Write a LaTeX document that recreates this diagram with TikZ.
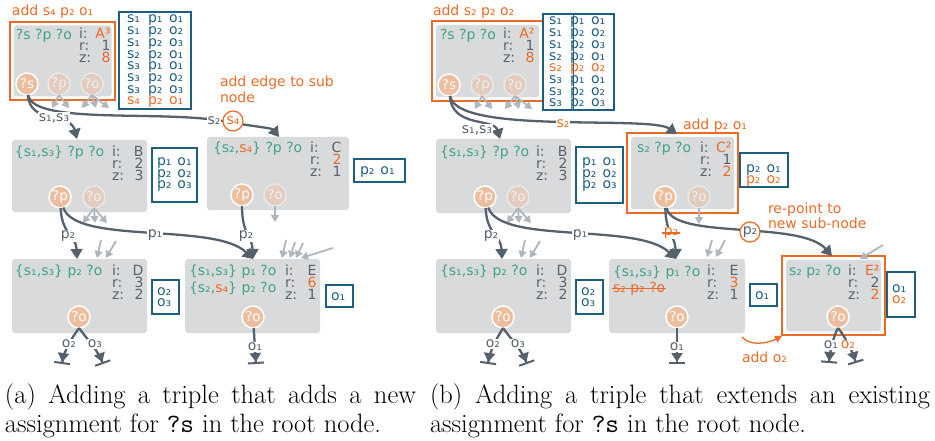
\documentclass[tikz,border=0pt]{standalone}
\usepackage{fontspec}
\usetikzlibrary{arrows.meta}
\newfontfamily\dvs{DejaVu Sans}
\definecolor{cPat}{HTML}{3FA386}
\definecolor{cLab}{HTML}{58626D}
\definecolor{cOrg}{HTML}{EA6B25}
\definecolor{cTea}{HTML}{1E5F80}
\definecolor{cEdg}{HTML}{56616E}
\definecolor{cLgr}{HTML}{AEB6BE}
\definecolor{cBox}{HTML}{D9DADC}
\definecolor{cPch}{HTML}{EDBE9E}
\newcommand\vlines[2]{\vtop{\baselineskip=#1\lineskiplimit=-100pt\lineskip=0pt #2}}
\newcommand\trow[3]{\hbox{\makebox[21pt][l]{#1}\makebox[21pt][l]{#2}#3}}
\newcommand\otrow[3]{\hbox{\color{cOrg}\makebox[21pt][l]{#1}\makebox[21pt][l]{#2}#3}}
\newcommand\prow[2]{\hbox{\makebox[20.5pt][l]{#1}#2}}
\newcommand\oprow[2]{\hbox{\color{cOrg}\makebox[20.5pt][l]{#1}#2}}
\newcommand\irz[6]{%
  \node[stlab,anchor=base west] (#1-k) at (#2,#3) {\vlines{12pt}{\hbox{i:}\hbox{r:}\hbox{z:}}};
  \node[stlab,anchor=base east] (#1-v) at (#2+32,#3) {\vlines{12pt}{\hbox to 0pt{\hss #4}\hbox to 0pt{\hss #5}\hbox to 0pt{\hss #6}}};
}
\tikzset{
  every node/.style={inner sep=0pt,outer sep=0pt},
  gbox/.style={fill=cBox,rounded corners=3pt,anchor=north west},
  obox/.style={draw=cOrg,line width=1.5pt,anchor=north west},
  tbox/.style={draw=cTea,line width=1.3pt,fill=white,anchor=north west},
  stpat/.style={text=cPat,font=\dvs\fontsize{14}{17}\selectfont,anchor=base west},
  stlab/.style={text=cLab,font=\dvs\fontsize{14}{12}\selectfont},
  sttab/.style={text=cTea,font=\dvs\fontsize{14}{11.5}\selectfont,anchor=base west},
  stnote/.style={text=cOrg,font=\dvs\fontsize{14}{16}\selectfont,anchor=base west},
  elab/.style={text=cLab,font=\dvs\fontsize{14}{14}\selectfont,fill=white,inner sep=1pt},
  ecirc/.style={circle,draw=cOrg,line width=1.2pt,fill=white,minimum size=20pt,font=\dvs\fontsize{14}{14}\selectfont},
  vfull/.style={circle,fill=cPch,draw=white,line width=1.5pt,minimum size=22pt,text=white,font=\dvs\fontsize{13.5}{13.5}\selectfont},
  vfade/.style={vfull,fill=cPch!50!cBox,draw=white!40!cBox,text=white!60!cBox},
  edge/.style={draw=cEdg,line width=2.3pt,-{Triangle[length=10pt,width=12pt]}},
  gedge/.style={draw=cLgr,line width=1.8pt,-{Triangle[length=7pt,width=8pt]}},
  term/.style={draw=cEdg,line width=2.3pt,-{Triangle[length=9pt,width=11pt]Bar[width=16pt,line width=2pt]}},
  oarrow/.style={draw=cOrg,line width=1.3pt,-{Triangle[length=7pt,width=7pt]}},
  strike/.style={draw=cOrg,line width=1.2pt},
  captext/.style={font=\fontsize{26.5}{31}\selectfont,anchor=base west},
}
\begin{document}
\begin{tikzpicture}[x=1pt,y=-1pt]
\useasboundingbox (0,0) rectangle (935,441);

%% ================= panel (a) =================
% A
\node[obox,minimum width=105pt,minimum height=78pt] (Ao) at (10,22) {};
\node[gbox,minimum width=98pt,minimum height=71pt] (A) at (13.5,25.5) {};
\node[stnote] (A-note) at (12,16) {add s₄ p₂ o₁};
\node[stpat] (A-t) at (16,40) {?s ?p ?o};
\irz{A}{79}{39}{\textcolor{cOrg}{A³}}{1}{\textcolor{cOrg}{8}}
\node[vfull] (aS) at (27,84) {?s};
\node[vfade] (aP) at (59,84) {?p};
\node[vfade] (aO) at (92,84) {?o};
\node[tbox,minimum width=72pt,minimum height=97pt] (TA) at (119,12) {};
\node[sttab] (TA-t) at (127,23) {\vlines{11.7pt}{\trow{s₁}{p₁}{o₁}\trow{s₁}{p₂}{o₂}\trow{s₁}{p₂}{o₃}\trow{s₂}{p₂}{o₁}\trow{s₃}{p₁}{o₁}\trow{s₃}{p₂}{o₂}\trow{s₃}{p₂}{o₃}\otrow{s₄}{p₂}{o₁}}};

% B
\node[gbox,minimum width=135pt,minimum height=72pt] (B) at (12,140) {};
\node[stpat] (B-t) at (15,157) {\{s₁,s₃\} ?p ?o};
\irz{B}{112}{157}{B}{2}{3}
\node[vfull] (bP) at (60,197) {?p};
\node[vfade] (bO) at (94,197) {?o};
\node[tbox,minimum width=45pt,minimum height=54pt] (TB) at (152,148) {};
\node[sttab] (TB-t) at (157,166) {\vlines{11.5pt}{\prow{p₁}{o₁}\prow{p₂}{o₂}\prow{p₂}{o₃}}};

% C
\node[gbox,minimum width=142pt,minimum height=73pt] (C) at (207,137) {};
\node[stpat] (C-t) at (213,153) {\{s₂,\textcolor{cOrg}{s₄}\} ?p ?o};
\irz{C}{310}{153}{C}{\textcolor{cOrg}{2}}{1}
\node[vfull] (cP) at (242,195) {?p};
\node[vfade] (cO) at (275,195) {?o};
\node[tbox,minimum width=51pt,minimum height=23pt] (TC) at (354,159) {};
\node[sttab] (TC-t) at (360,175) {\prow{p₂}{o₁}};
\node[stnote] (C-note) at (220,87) {\vlines{16pt}{\hbox{add edge to sub}\hbox{node}}};

% D
\node[gbox,minimum width=135pt,minimum height=74pt] (D) at (12,259) {};
\node[stpat] (D-t) at (15,275) {\{s₁,s₃\} p₂ ?o};
\irz{D}{112}{275}{D}{3}{2}
\node[vfull] (dO) at (79,317) {?o};
\node[tbox,minimum width=27pt,minimum height=34pt] (TD) at (152,280) {};
\node[sttab] (TD-t) at (157,295) {\vlines{11.5pt}{\hbox{o₂}\hbox{o₃}}};

% E
\node[gbox,minimum width=135pt,minimum height=74pt] (E) at (185,259) {};
\node[stpat] (E-t1) at (189,275) {\{s₁,s₃\} p₁ ?o};
\node[stpat] (E-t2) at (189,292) {\{s₂,\textcolor{cOrg}{s₄}\} p₂ ?o};
\irz{E}{285}{275}{E}{\textcolor{cOrg}{6}}{1}
\node[vfull] (eO) at (253,317) {?o};
\node[tbox,minimum width=27pt,minimum height=22pt] (TE) at (326,285) {};
\node[sttab] (TE-t) at (331,300) {o₁};

% gray stubs (a)
\draw[gedge] (aP.south) -- ++(-7,13);
\draw[gedge] (aP.south) -- ++(10,13);
\draw[gedge] (aO.south) -- ++(-10,13);
\draw[gedge] (aO.south) -- ++(4,13);
\draw[gedge] (aO.south) -- ++(17,13);
\draw[gedge] (bO.south) -- ++(-11,15);
\draw[gedge] (bO.south) -- ++(1,15);
\draw[gedge] (bO.south) -- ++(13,15);
\draw[gedge] (cO.south) -- ++(0,16);
\draw[gedge] ([shift={(89,-19)}]D.north west) -- ++(-4,18);
\draw[gedge] ([shift={(104,-18)}]D.north west) -- ++(-10,17);
\draw[gedge] ([shift={(101,-19)}]E.north west) -- ++(-4,18);
\draw[gedge] ([shift={(110,-17)}]E.north west) -- ++(-5,16);
\draw[gedge] ([shift={(118,-16)}]E.north west) -- ++(-7,15);
\draw[gedge] ([shift={(148,-11)}]E.north west) -- ++(-32,10);

% dark edges (a)
\coordinate (B-in) at (77,139);
\coordinate (C-via) at (222,121);
\coordinate (C-in) at (279,137);
\coordinate (D-in) at (77,259);
\coordinate (E-in) at (253,259);
\draw[edge] (aS) .. controls (30,125) and (70,112) .. (B-in);
\draw[edge] (aS) .. controls (32,125) and (160,110) .. (C-via) .. controls (250,126) and (272,128) .. (C-in);
\draw[edge] (bP) .. controls (62,235) and (76,235) .. (D-in);
\draw[edge] (bP) .. controls (75,245) and (215,222) .. (E-in);
\draw[edge] (cP) .. controls (242,235) and (252,235) .. (E-in);
\coordinate (Dt1) at (62,364);
\coordinate (Dt2) at (103,364);
\coordinate (Et) at (256,364);
\draw[term] (dO.south) .. controls (72,338) and (64,350) .. (Dt1);
\draw[term] (dO.south) .. controls (86,338) and (98,350) .. (Dt2);
\draw[term] (eO) -- (Et);
\node[elab] (l-s13) at (54,118) {s₁,s₃};
\node[elab] (l-s2) at (214,121) {s₂};
\node[ecirc,text=cOrg] (l-s4) at (233,121) {s₄};
\node[elab] (l-p2a) at (68,236) {p₂};
\node[elab] (l-p1a) at (155,235) {p₁};
\node[elab] (l-p2b) at (246,236) {p₂};
\node[elab] (l-o2a) at (69,344) {o₂};
\node[elab] (l-o3a) at (95,344) {o₃};
\node[elab] (l-o1a) at (255,347) {o₁};

%% ================= panel (b) =================
% A2
\node[obox,minimum width=111pt,minimum height=80pt] (A2o) at (432,21) {};
\node[gbox,minimum width=103pt,minimum height=72pt] (A2) at (436,25) {};
\node[stnote] (A2-note) at (433,16) {add s₂ p₂ o₂};
\node[stpat] (A2-t) at (440,40) {?s ?p ?o};
\irz{A2}{503}{39}{\textcolor{cOrg}{A²}}{1}{\textcolor{cOrg}{8}}
\node[vfull] (aS2) at (449,85) {?s};
\node[vfade] (aP2) at (482,85) {?p};
\node[vfade] (aO2) at (515,85) {?o};
\node[tbox,minimum width=71pt,minimum height=96pt] (TA2) at (543,14) {};
\draw[cTea,line width=0.8pt] ([xshift=30pt]TA2.north west) -- ([xshift=30pt]TA2.south west);
\node[sttab] (TA2-t) at (549,25) {\vlines{11.7pt}{\trow{s₁}{p₁}{o₁}\trow{s₁}{p₂}{o₂}\trow{s₁}{p₂}{o₃}\trow{s₂}{p₂}{o₁}\otrow{s₂}{p₂}{o₂}\trow{s₃}{p₁}{o₁}\trow{s₃}{p₂}{o₂}\trow{s₃}{p₂}{o₃}}};

% B2
\node[gbox,minimum width=135pt,minimum height=74pt] (B2) at (436,139) {};
\node[stpat] (B2-t) at (440,157) {\{s₁,s₃\} ?p ?o};
\irz{B2}{536}{157}{B}{2}{3}
\node[vfull] (bP2) at (485,197) {?p};
\node[vfade] (bO2) at (518,197) {?o};
\node[tbox,minimum width=47pt,minimum height=56pt] (TB2) at (576,147) {};
\node[sttab] (TB2-t) at (582,166) {\vlines{11.5pt}{\prow{p₁}{o₁}\prow{p₂}{o₂}\prow{p₂}{o₃}}};

% C2
\node[obox,minimum width=111pt,minimum height=80pt] (C2o) at (627,133) {};
\node[gbox,minimum width=103pt,minimum height=72pt] (C2) at (631,137) {};
\node[stnote] (C2-note) at (683,130) {add p₂ o₁};
\node[stpat] (C2-t) at (637,153) {s₂ ?p ?o};
\irz{C2}{700}{153}{\textcolor{cOrg}{C²}}{1}{\textcolor{cOrg}{2}}
\node[vfull] (cP2) at (665,197) {?p};
\node[vfade] (cO2) at (699,197) {?o};
\node[tbox,minimum width=48pt,minimum height=34pt] (TC2) at (740,153) {};
\node[sttab] (TC2-t) at (746,172) {\vlines{11.5pt}{\prow{p₂}{o₁}\oprow{p₂}{o₂}}};
\node[stnote] (C2-note2) at (768,213) {\vlines{16pt}{\hbox{re-point to}\hbox{new sub-node}}};

% D2
\node[gbox,minimum width=135pt,minimum height=74pt] (D2) at (436,259) {};
\node[stpat] (D2-t) at (440,275) {\{s₁,s₃\} p₂ ?o};
\irz{D2}{536}{275}{D}{3}{2}
\node[vfull] (dO2) at (503,317) {?o};
\node[tbox,minimum width=27pt,minimum height=34pt] (TD2) at (576,280) {};
\node[sttab] (TD2-t) at (581,295) {\vlines{11.5pt}{\hbox{o₂}\hbox{o₃}}};

% E2
\node[gbox,minimum width=136pt,minimum height=74pt] (E2) at (609,259) {};
\node[stpat] (E2-t1) at (613,276) {\{s₁,s₃\} p₁ ?o};
\node[stpat,text=cOrg] (E2-t2) at (613,292) {s₂ p₂ ?o};
\draw[strike] ([xshift=-1pt]E2-t2.west) -- ([xshift=1pt]E2-t2.east);
\irz{E2}{707}{275}{E}{\textcolor{cOrg}{3}}{1}
\node[vfull] (eO2) at (677,317) {?o};
\node[tbox,minimum width=27pt,minimum height=22pt] (TE2) at (750,284) {};
\node[sttab] (TE2-t) at (755,299) {o₁};

% F2 (E^2)
\node[obox,minimum width=103pt,minimum height=79pt] (F2o) at (782,256) {};
\node[gbox,minimum width=95pt,minimum height=71pt] (F2) at (786,260) {};
\node[stpat] (F2-t) at (789,275) {s₂ p₂ ?o};
\irz{F2}{848}{275}{\textcolor{cOrg}{E²}}{2}{\textcolor{cOrg}{2}}
\node[vfull] (fO2) at (838,317) {?o};
\node[tbox,minimum width=28pt,minimum height=45pt] (TF2) at (887,272) {};
\node[sttab] (TF2-t) at (892,292) {\vlines{11.5pt}{\hbox{o₁}\hbox{\color{cOrg}o₂}}};
\node[stnote] (F2-note) at (742,362) {add o₂};

% gray stubs (b)
\draw[gedge] (aP2.south) -- ++(-7,13);
\draw[gedge] (aP2.south) -- ++(10,13);
\draw[gedge] (aO2.south) -- ++(-10,13);
\draw[gedge] (aO2.south) -- ++(4,13);
\draw[gedge] (aO2.south) -- ++(17,13);
\draw[gedge] (bO2.south) -- ++(-11,15);
\draw[gedge] (bO2.south) -- ++(1,15);
\draw[gedge] (bO2.south) -- ++(13,15);
\draw[gedge] (cO2.south) -- ++(0,16);
\draw[gedge] ([shift={(89,-19)}]D2.north west) -- ++(-4,18);
\draw[gedge] ([shift={(104,-18)}]D2.north west) -- ++(-10,17);
\draw[gedge] ([shift={(103,-19)}]E2.north west) -- ++(-5,17);
\draw[gedge] ([shift={(116,-19)}]E2.north west) -- ++(-9,17);
\draw[gedge] ([shift={(97,-15)}]F2.north west) -- ++(-23,14);

% dark edges (b)
\coordinate (B2-in) at (500,139);
\coordinate (C2-in) at (677,134);
\coordinate (D2-in) at (502,259);
\coordinate (E2-in) at (676,259);
\coordinate (F2-in) at (832,256);
\draw[edge] (aS2) .. controls (452,128) and (494,118) .. (B2-in);
\draw[edge] (aS2) .. controls (455,135) and (650,115) .. (C2-in);
\draw[edge] (bP2) .. controls (487,235) and (501,235) .. (D2-in);
\draw[edge] (bP2) .. controls (500,245) and (638,222) .. (E2-in);
\draw[edge] (cP2) .. controls (666,235) and (675,235) .. (E2-in);
\draw[edge] (cP2) .. controls (672,240) and (800,220) .. (F2-in);
\coordinate (D2t1) at (488,364);
\coordinate (D2t2) at (527,364);
\coordinate (E2t) at (677,364);
\coordinate (F2t1) at (829,363);
\coordinate (F2t2) at (856,363);
\draw[term] (dO2.south) .. controls (497,338) and (490,350) .. (D2t1);
\draw[term] (dO2.south) .. controls (510,338) and (522,350) .. (D2t2);
\draw[term] (eO2) -- (E2t);
\draw[term] (fO2.south) .. controls (834,335) and (830,350) .. (F2t1);
\draw[term] (fO2.south) .. controls (844,335) and (852,350) .. (F2t2);
\draw[oarrow] ([shift={(-3,4)}]E2.south east) .. controls +(8,9) and +(-16,8) .. ([yshift=-1pt]F2o.south west);
\node[elab] (l2-s13) at (477,130) {s₁,s₃};
\node[elab,text=cOrg] (l2-s2) at (563,124) {s₂};
\node[elab] (l2-p2a) at (491,236) {p₂};
\node[elab] (l2-p1a) at (580,235) {p₁};
\node[elab,text=cOrg] (l2-p2b) at (671,233) {p₂};
\draw[strike] ([xshift=-1pt]l2-p2b.west) -- ([xshift=1pt]l2-p2b.east);
\node[ecirc,text=cLab] (l2-p2c) at (750,232) {p₂};
\node[elab] (l2-o2a) at (493,344) {o₂};
\node[elab] (l2-o3a) at (518,344) {o₃};
\node[elab] (l2-o1a) at (677,347) {o₁};
\node[elab,inner sep=0.5pt] (l2-o1b) at (831,345) {o₁};
\node[elab,text=cOrg,inner sep=0.5pt] (l2-o2b) at (848,345) {o₂};

%% captions
\node[captext] (capa1) at (5,403) {\makebox[411pt][s]{(a) Adding a triple that adds a new}};
\node[captext] (capa2) at (5,432) {assignment for \texttt{?s} in the root node.};
\node[captext] (capb1) at (430,403) {\makebox[500pt][s]{(b) Adding a triple that extends an existing}};
\node[captext] (capb2) at (430,432) {assignment for \texttt{?s} in the root node.};
\end{tikzpicture}
\end{document}
